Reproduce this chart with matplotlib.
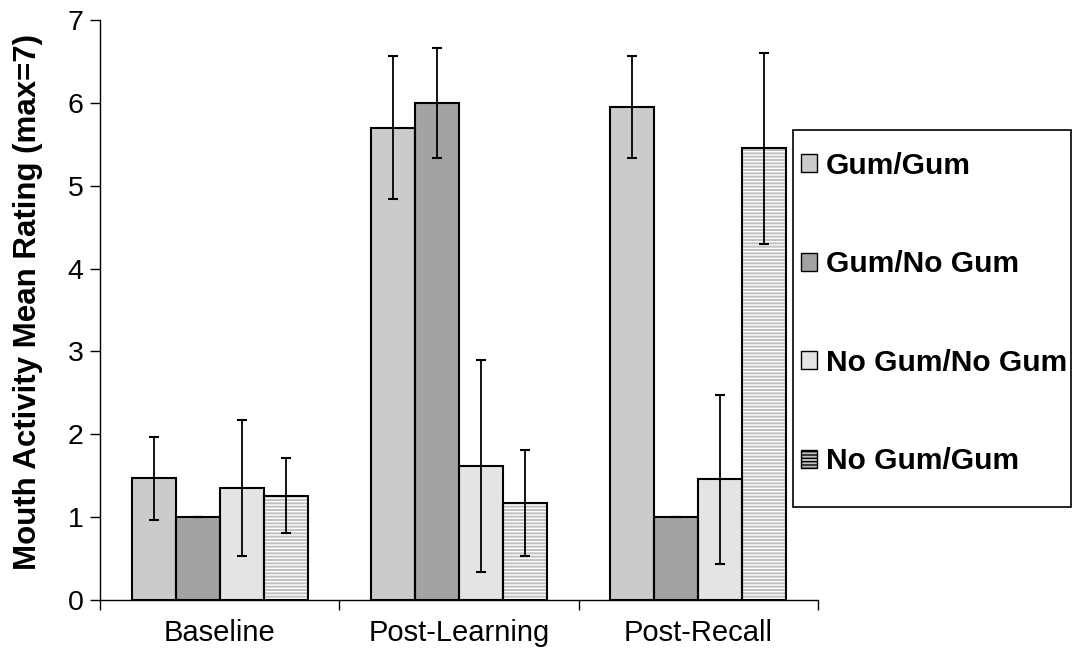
import matplotlib
matplotlib.use("Agg")
import matplotlib.pyplot as plt
from matplotlib.patches import Patch, Rectangle
import numpy as np

plt.rcParams['font.family'] = ['Liberation Sans', 'DejaVu Sans']

categories = ["Baseline", "Post-Learning", "Post-Recall"]
series = ["Gum/Gum", "Gum/No Gum", "No Gum/No Gum", "No Gum/Gum"]
gum_gum = [1.47, 5.70, 5.95]
gum_nogum = [1.00, 6.00, 1.00]
nogum_nogum = [1.35, 1.62, 1.46]
nogum_gum = [1.26, 1.17, 5.45]
err_gum_gum = [0.50, 0.86, 0.62]
err_gum_nogum = [0.0, 0.66, 0.0]
err_nogum_nogum = [0.82, 1.28, 1.02]
err_nogum_gum = [0.45, 0.64, 1.15]

values = [gum_gum, gum_nogum, nogum_nogum, nogum_gum]
errors = [err_gum_gum, err_gum_nogum, err_nogum_nogum, err_nogum_gum]
faces = ["#cbcbcb", "#a3a3a3", "#e4e4e4", "#c0c0c0"]
hatches = [None, None, None, "-----"]

fig = plt.figure(figsize=(10.73, 6.64), dpi=100)
ax = fig.add_axes([100/1073, 64/664, 718/1073, 580/664])

x = np.arange(len(categories))
w = 0.184
handles = []
for i, (vals, errs) in enumerate(zip(values, errors)):
    pos = x + (i - 1.5) * w
    ax.bar(pos, vals, w, color=faces[i], edgecolor="white" if hatches[i] else faces[i],
           hatch=hatches[i], linewidth=0, zorder=2)
    ax.bar(pos, vals, w, facecolor="none", edgecolor="black", linewidth=1.5, zorder=3)
    ax.errorbar(pos, vals, yerr=errs, fmt="none", ecolor="black", elinewidth=1.3,
                capsize=3.6, capthick=1.5, zorder=4)
    handles.append(Patch(facecolor=faces[i], edgecolor="black",
                         hatch=hatches[i], linewidth=1.0))

ax.set_xlim(-0.5, 2.5)
ax.set_ylim(0, 7)
ax.set_yticks(range(0, 8))
ax.set_xticks([-0.5, 0.5, 1.5, 2.5])
ax.set_xticklabels([])
ax.set_xticks(x, minor=True)
ax.set_xticklabels(categories, minor=True)
ax.tick_params(axis='x', which='minor', length=0, pad=14, labelsize=21)
ax.tick_params(axis='x', which='major', length=7, width=1, direction='out')
ax.tick_params(axis='y', length=7, width=1, labelsize=20.5, pad=5)
for s in ['top', 'right']:
    ax.spines[s].set_visible(False)
ax.spines['left'].set_linewidth(1)
ax.spines['bottom'].set_linewidth(1)
ax.set_ylabel("Mouth Activity Mean Rating (max=7)", fontsize=22.5, fontweight='bold')
ax.yaxis.set_label_coords(-0.079, 0.514)

# legend frame
fig.patches.append(Rectangle((793/1073, 1 - 507/664), (1071-793)/1073, (507-130)/664,
                             transform=fig.transFigure, facecolor='white',
                             edgecolor='black', linewidth=1.2, zorder=1))
leg = fig.legend(handles, series, loc='upper left',
                 bbox_to_anchor=(801/1073, 1 - 152/664),
                 prop={'weight': 'bold', 'size': 21.5}, frameon=False,
                 handlelength=0.55, handleheight=0.55, handletextpad=0.28,
                 labelspacing=2.36, borderpad=0, borderaxespad=0)

fig.savefig("out.png", dpi=100)
